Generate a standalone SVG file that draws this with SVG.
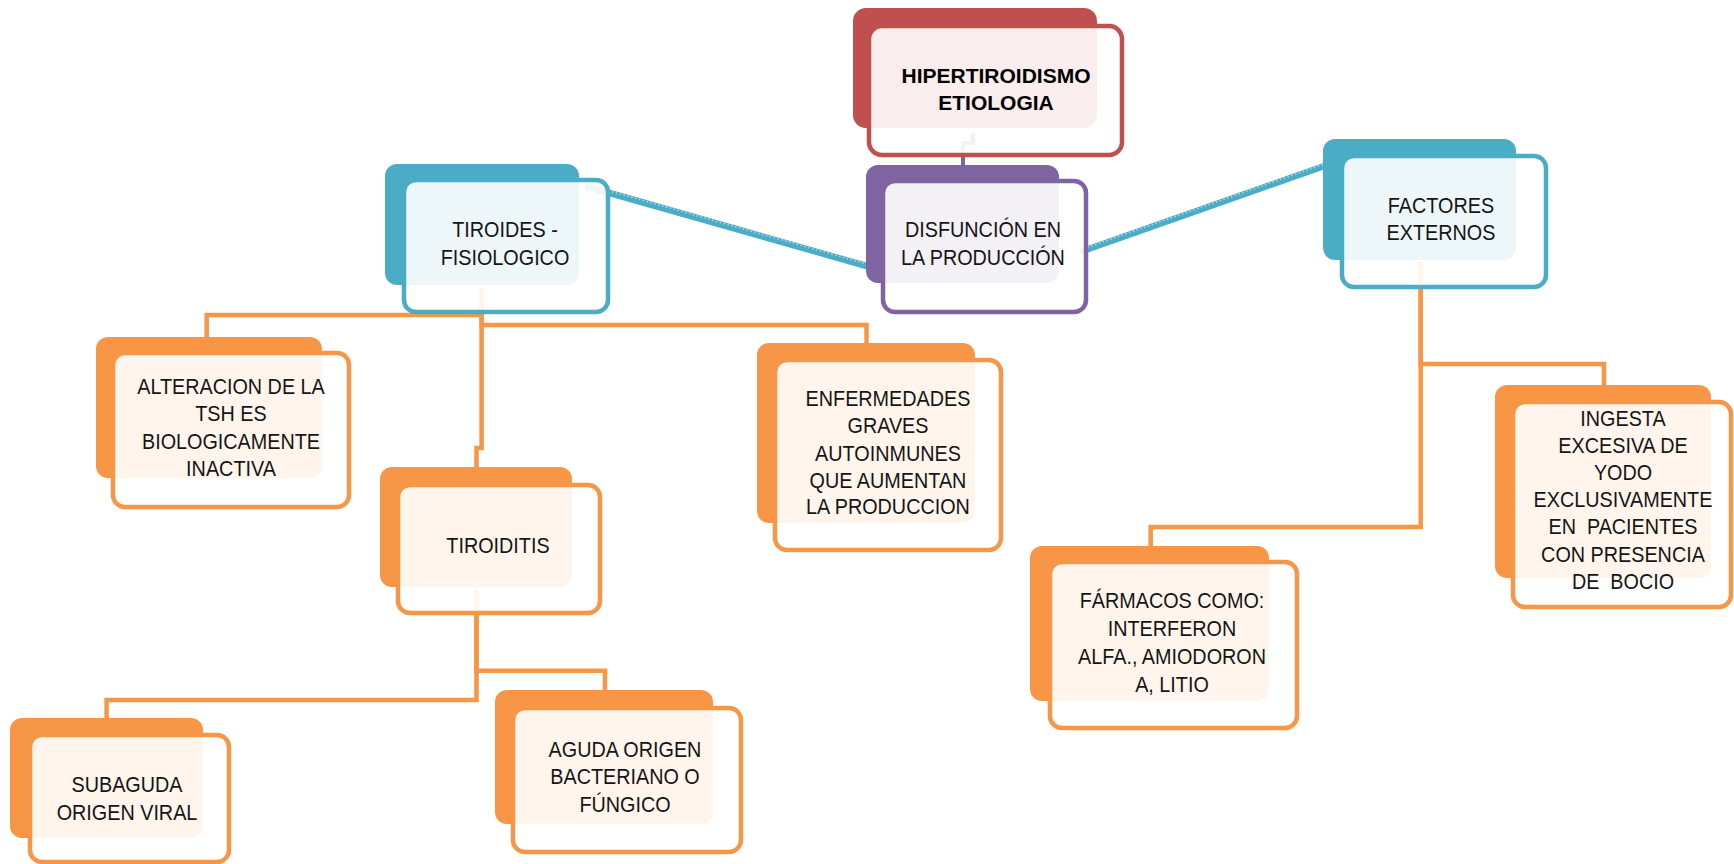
<svg xmlns="http://www.w3.org/2000/svg" width="1734" height="864" viewBox="0 0 1734 864">
  <style>
    .bg { fill: #ffffff; }
    .conn-o { fill: none; stroke: #f79646; stroke-width: 4.5; stroke-linejoin: miter; }
    .conn-b { fill: none; stroke: #4bacc6; stroke-width: 6.5; stroke-linecap: butt; }
    .conn-b-tex { fill: none; stroke: #a9d9e6; stroke-width: 1.6; stroke-dasharray: 1.5 2.5; }
    .conn-p { fill: none; stroke: #8064a2; stroke-width: 4; }
    .back-r { fill: #c0504d; }
    .back-b { fill: #4bacc6; }
    .back-p { fill: #8064a2; }
    .back-o { fill: #f79646; }
    .front { fill: #ffffff; fill-opacity: 0.9; stroke-width: 4.5; }
    .front-r { stroke: #c0504d; }
    .front-b { stroke: #4bacc6; }
    .front-p { stroke: #8064a2; }
    .front-o { stroke: #f79646; }
    .t { font-family: "Liberation Sans", Arial, sans-serif; font-size: 22px; fill: #151515; text-anchor: middle; }
    .title { font-family: "Liberation Sans", Arial, sans-serif; font-size: 21px; font-weight: bold; fill: #000000; text-anchor: middle; }
  </style>

  <rect class="bg" x="0" y="0" width="1734" height="864"/>

  <!-- connectors -->
  <g id="connectors">
    <!-- root to central node -->
    <path class="conn-p" d="M973,133 V143 H963 V168"/>
    <!-- blue links between the three main branches -->
    <line class="conn-b" x1="585" y1="186" x2="870" y2="267"/>
    <line class="conn-b-tex" x1="585" y1="184" x2="870" y2="265"/>
    <line class="conn-b" x1="1080" y1="252" x2="1330" y2="164"/>
    <line class="conn-b-tex" x1="1080" y1="250" x2="1330" y2="162"/>
    <!-- TIROIDES - FISIOLOGICO children -->
    <path class="conn-o" d="M481.6,288 V315 H206.7 V338"/>
    <path class="conn-o" d="M481.6,288 V448 H476.5 V469"/>
    <path class="conn-o" d="M481.6,288 V325 H866.5 V345"/>
    <!-- TIROIDITIS children -->
    <path class="conn-o" d="M476.5,590 V700 H106.6 V720"/>
    <path class="conn-o" d="M476.5,590 V670.7 H605 V692"/>
    <!-- FACTORES EXTERNOS children -->
    <path class="conn-o" d="M1420.7,262 V364 H1604 V387"/>
    <path class="conn-o" d="M1420.7,262 V527 H1150.7 V548"/>
  </g>

  <!-- root -->
  <g id="node-hipertiroidismo">
    <rect class="back-r" x="853" y="8" width="244" height="120" rx="13"/>
    <rect class="front front-r" x="869" y="26" width="253" height="129" rx="13"/>
    <text class="title"><tspan x="996" y="83">HIPERTIROIDISMO</tspan><tspan x="996" y="110">ETIOLOGIA</tspan></text>
  </g>

  <g id="node-tiroides">
    <rect class="back-b" x="385" y="164" width="194" height="121" rx="12"/>
    <rect class="front front-b" x="404" y="180" width="204" height="132" rx="12"/>
    <text class="t" transform="translate(505 0) scale(0.9 1)"><tspan x="0" y="237">TIROIDES -</tspan><tspan x="0" y="265">FISIOLOGICO</tspan></text>
  </g>

  <g id="node-disfuncion">
    <rect class="back-p" x="866" y="165" width="193" height="118" rx="12"/>
    <rect class="front front-p" x="883" y="181" width="203" height="131" rx="12"/>
    <text class="t" transform="translate(983 0) scale(0.9 1)"><tspan x="0" y="237">DISFUNCIÓN EN</tspan><tspan x="0" y="265">LA PRODUCCIÓN</tspan></text>
  </g>

  <g id="node-factores">
    <rect class="back-b" x="1323" y="139" width="193" height="121" rx="12"/>
    <rect class="front front-b" x="1342" y="156" width="204" height="131" rx="12"/>
    <text class="t" transform="translate(1441 0) scale(0.9 1)"><tspan x="0" y="213">FACTORES</tspan><tspan x="0" y="240">EXTERNOS</tspan></text>
  </g>

  <g id="node-alteracion">
    <rect class="back-o" x="96" y="337" width="226" height="141" rx="12"/>
    <rect class="front front-o" x="113" y="353" width="236" height="154" rx="12"/>
    <text class="t" transform="translate(231 0) scale(0.9 1)"><tspan x="0" y="394">ALTERACION DE LA</tspan><tspan x="0" y="421">TSH ES</tspan><tspan x="0" y="449">BIOLOGICAMENTE</tspan><tspan x="0" y="476">INACTIVA</tspan></text>
  </g>

  <g id="node-tiroiditis">
    <rect class="back-o" x="380" y="467" width="192" height="120" rx="12"/>
    <rect class="front front-o" x="398" y="485" width="202" height="128" rx="12"/>
    <text class="t" transform="translate(498 0) scale(0.9 1)"><tspan x="0" y="553">TIROIDITIS</tspan></text>
  </g>

  <g id="node-enfermedades">
    <rect class="back-o" x="757" y="343" width="218" height="180" rx="12"/>
    <rect class="front front-o" x="775" y="360" width="226" height="190" rx="12"/>
    <text class="t" transform="translate(888 0) scale(0.9 1)"><tspan x="0" y="406">ENFERMEDADES</tspan><tspan x="0" y="433">GRAVES</tspan><tspan x="0" y="461">AUTOINMUNES</tspan><tspan x="0" y="488">QUE AUMENTAN</tspan><tspan x="0" y="514">LA PRODUCCION</tspan></text>
  </g>

  <g id="node-farmacos">
    <rect class="back-o" x="1030" y="546" width="239" height="155" rx="12"/>
    <rect class="front front-o" x="1050" y="562" width="247" height="166" rx="12"/>
    <text class="t" transform="translate(1172 0) scale(0.9 1)"><tspan x="0" y="608">FÁRMACOS COMO:</tspan><tspan x="0" y="636">INTERFERON</tspan><tspan x="0" y="664">ALFA., AMIODORON</tspan><tspan x="0" y="692">A, LITIO</tspan></text>
  </g>

  <g id="node-ingesta">
    <rect class="back-o" x="1495" y="385" width="216" height="193" rx="12"/>
    <rect class="front front-o" x="1513" y="402" width="218" height="205" rx="12"/>
    <text class="t" xml:space="preserve" transform="translate(1623 0) scale(0.9 1)"><tspan x="0" y="426">INGESTA</tspan><tspan x="0" y="453">EXCESIVA DE</tspan><tspan x="0" y="480">YODO</tspan><tspan x="0" y="507">EXCLUSIVAMENTE</tspan><tspan x="0" y="534">EN  PACIENTES</tspan><tspan x="0" y="562">CON PRESENCIA</tspan><tspan x="0" y="589">DE  BOCIO</tspan></text>
  </g>

  <g id="node-subaguda">
    <rect class="back-o" x="10" y="718" width="193" height="120" rx="12"/>
    <rect class="front front-o" x="30" y="735" width="199" height="127" rx="12"/>
    <text class="t" transform="translate(127 0) scale(0.9 1)"><tspan x="0" y="792">SUBAGUDA</tspan><tspan x="0" y="820">ORIGEN VIRAL</tspan></text>
  </g>

  <g id="node-aguda">
    <rect class="back-o" x="495" y="690" width="218" height="134" rx="12"/>
    <rect class="front front-o" x="513" y="708" width="228" height="144" rx="12"/>
    <text class="t" transform="translate(625 0) scale(0.9 1)"><tspan x="0" y="757">AGUDA ORIGEN</tspan><tspan x="0" y="784">BACTERIANO O</tspan><tspan x="0" y="812">FÚNGICO</tspan></text>
  </g>
</svg>
